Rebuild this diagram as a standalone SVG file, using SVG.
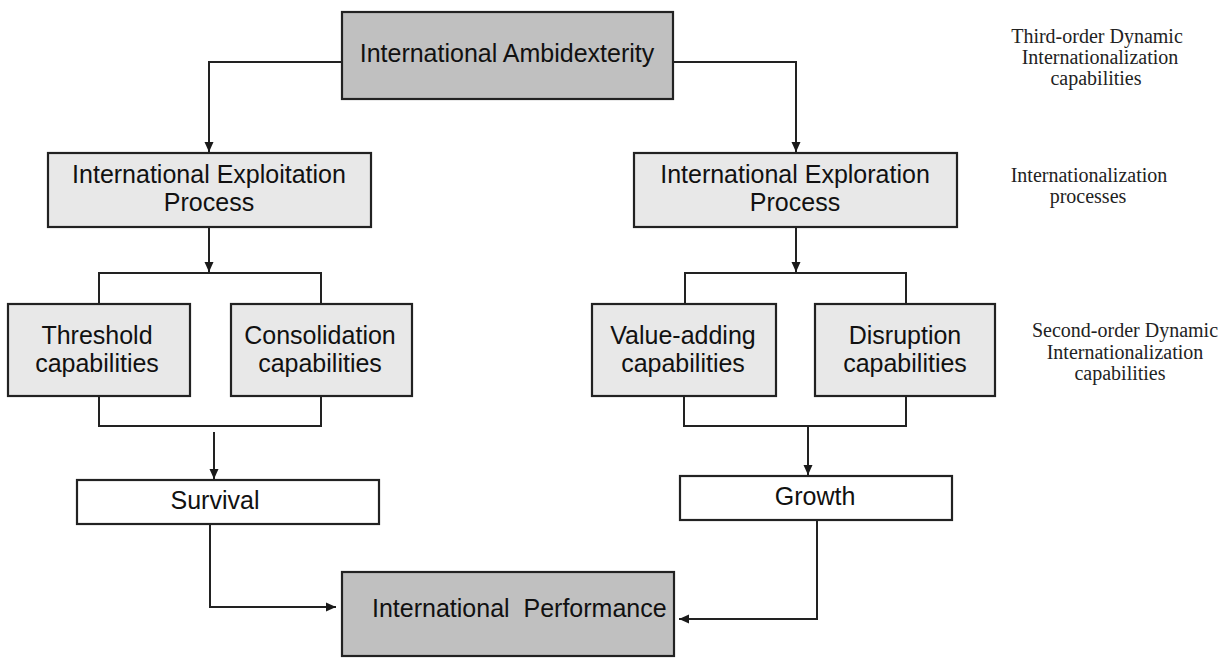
<svg xmlns="http://www.w3.org/2000/svg" width="1231" height="658" viewBox="0 0 1231 658">
  <defs>
    <marker id="arrow" viewBox="0 0 10 10" refX="10" refY="5" markerWidth="10" markerHeight="10" markerUnits="userSpaceOnUse" orient="auto">
      <path d="M0,0.5 L10,5 L0,9.5 Z" fill="#1a1a1a"/>
    </marker>
    <style>
      .box { stroke: #222; stroke-width: 2.2; }
      .dark { fill: #c0c0c0; }
      .light { fill: #e8e8e8; }
      .plain { fill: #ffffff; }
      .lbl { font-family: "Liberation Sans", Arial, sans-serif; font-size: 25px; fill: #111; text-anchor: middle; }
      .side { font-family: "Liberation Serif", "Times New Roman", serif; font-size: 20px; fill: #222; text-anchor: middle; }
      .wire { fill: none; stroke: #222; stroke-width: 2; }
      .arr { marker-end: url(#arrow); }
    </style>
  </defs>
  <rect width="1231" height="658" fill="#ffffff"/>

  <!-- connectors -->
  <g id="connectors">
    <path class="wire arr" d="M342,62 H209 V152"/>
    <path class="wire arr" d="M673,62 H796 V152"/>
    <path class="wire arr" d="M209,227 V272"/>
    <path class="wire arr" d="M796,227 V272"/>
    <path class="wire" d="M99,304 V273 H321 V304"/>
    <path class="wire" d="M685,304 V273 H906 V304"/>
    <path class="wire" d="M99,396 V426 H321 V396"/>
    <path class="wire" d="M684,396 V426 H906 V396"/>
    <path class="wire arr" d="M214,432 V479"/>
    <path class="wire arr" d="M808,426 V475"/>
    <path class="wire arr" d="M210,524 V607 H336"/>
    <path class="wire arr" d="M817,520 V619 H679"/>
  </g>

  <g id="ambidexterity">
    <rect class="box dark" x="342" y="12" width="331" height="87"/>
    <text class="lbl" x="507" y="62">International Ambidexterity</text>
  </g>

  <g id="exploitation">
    <rect class="box light" x="48" y="153" width="323" height="74"/>
    <text class="lbl" x="209" y="183">International Exploitation</text>
    <text class="lbl" x="209" y="211">Process</text>
  </g>

  <g id="exploration">
    <rect class="box light" x="634" y="153" width="323" height="74"/>
    <text class="lbl" x="795" y="183">International Exploration</text>
    <text class="lbl" x="795" y="211">Process</text>
  </g>

  <g id="threshold">
    <rect class="box light" x="8" y="304" width="182" height="92"/>
    <text class="lbl" x="97" y="344">Threshold</text>
    <text class="lbl" x="97" y="372">capabilities</text>
  </g>

  <g id="consolidation">
    <rect class="box light" x="231" y="304" width="181" height="92"/>
    <text class="lbl" x="320" y="344">Consolidation</text>
    <text class="lbl" x="320" y="372">capabilities</text>
  </g>

  <g id="value-adding">
    <rect class="box light" x="592" y="304" width="184" height="92"/>
    <text class="lbl" x="683" y="344">Value-adding</text>
    <text class="lbl" x="683" y="372">capabilities</text>
  </g>

  <g id="disruption">
    <rect class="box light" x="815" y="304" width="180" height="92"/>
    <text class="lbl" x="905" y="344">Disruption</text>
    <text class="lbl" x="905" y="372">capabilities</text>
  </g>

  <g id="survival">
    <rect class="box plain" x="77" y="480" width="302" height="44"/>
    <text class="lbl" x="215" y="509">Survival</text>
  </g>

  <g id="growth">
    <rect class="box plain" x="680" y="476" width="272" height="44"/>
    <text class="lbl" x="815" y="505">Growth</text>
  </g>

  <g id="performance">
    <rect class="box dark" x="342" y="572" width="332" height="84"/>
    <text class="lbl" x="372" y="617" style="text-anchor:start; white-space:pre">International  Performance</text>
  </g>

  <!-- level labels on the right -->
  <g id="level-third">
    <text class="side" x="1097" y="43">Third-order Dynamic</text>
    <text class="side" x="1100" y="64">Internationalization</text>
    <text class="side" x="1096" y="85">capabilities</text>
  </g>
  <g id="level-process">
    <text class="side" x="1089" y="182">Internationalization</text>
    <text class="side" x="1088" y="203">processes</text>
  </g>
  <g id="level-second">
    <text class="side" x="1125" y="337">Second-order Dynamic</text>
    <text class="side" x="1125" y="359">Internationalization</text>
    <text class="side" x="1120" y="380">capabilities</text>
  </g>
</svg>
